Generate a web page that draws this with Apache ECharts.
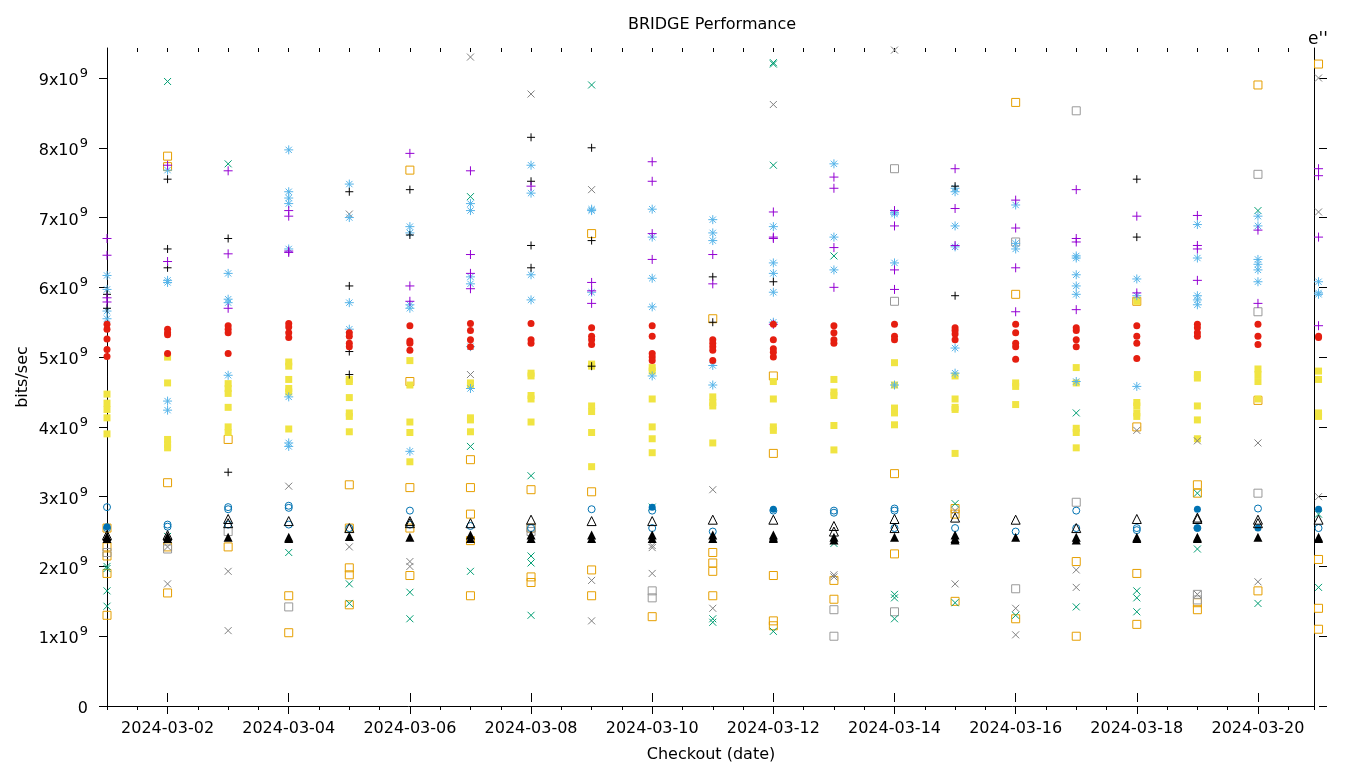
<!DOCTYPE html>
<html>
<head>
<meta charset="utf-8">
<script src="https://cdn.jsdelivr.net/npm/echarts@6/dist/echarts.min.js"></script>
<style>
  html, body { margin: 0; background: #fff; }
  #chart { width: 1360px; height: 768px; }
</style>
</head>
<body>
<div id="chart"></div>
<script>
// values in units of 1e9 bits/sec, one sub-array per day (2024-03-01 .. 2024-03-21)
const purplePlus = [
  [6.7, 6.46, 5.85, 5.79], [7.75, 6.37], [7.67, 6.48, 5.7], [7.1, 7.02, 6.52, 6.5], [],
  [7.92, 6.02, 5.8], [7.67, 6.47, 6.2, 5.98], [7.45], [6.07, 5.95, 5.77], [7.8, 7.52, 6.77, 6.4],
  [6.47, 6.05], [7.08, 6.72, 6.7, 5.47], [7.58, 7.42, 6.57, 6.0], [7.1, 6.88, 6.25, 5.97], [7.7, 7.13, 6.6],
  [7.25, 6.85, 6.28, 5.65], [7.4, 6.7, 6.65, 5.68], [7.02, 5.92], [7.03, 6.6, 6.55, 6.1], [6.82, 5.77],
  [7.7, 7.6, 6.72, 5.45]
];
const blackPlus = [
  [5.9, 5.7], [7.55, 6.55, 6.28], [6.7, 3.35], [], [7.37, 6.02, 5.08, 4.75],
  [7.4, 6.75], [], [8.15, 7.52, 6.6, 6.28], [8.0, 6.67, 4.87], [],
  [6.15, 5.5], [6.08], [], [], [7.45, 5.88],
  [], [], [7.55, 6.72], [], [],
  []
];
const tealCross = [
  [2.0, 1.97, 1.65, 1.43], [8.95, 2.43], [7.77], [2.2], [1.75, 1.47],
  [1.63, 1.25], [7.3, 3.72, 1.93], [3.3, 2.15, 2.05, 1.3], [8.9], [2.85],
  [1.25, 1.2], [9.22, 9.2, 7.75, 1.07], [6.45, 2.33], [1.6, 1.55, 1.25], [2.9, 1.48],
  [1.3], [4.2, 1.42], [1.65, 1.55, 1.35], [3.05, 2.25], [7.1, 1.47],
  [2.75, 1.7]
];
const grayCross = [
  [], [1.75, 2.28], [1.93, 1.08], [3.15], [7.05, 2.28],
  [2.07, 2.0], [9.3, 4.75], [8.77], [7.4, 1.8, 1.22], [2.3, 2.27, 1.9],
  [3.1, 1.4], [8.62], [1.88, 1.85], [9.4], [2.8, 1.75],
  [1.4, 1.02], [1.95, 1.7], [3.95], [3.8, 1.6], [3.77, 1.78],
  [9.0, 7.08, 3.0]
];
const blueStar = [
  [6.17, 5.97, 5.66, 5.55], [7.68, 6.1, 6.07, 4.37, 4.24], [6.2, 5.83, 5.78, 4.74],
  [7.97, 7.37, 7.28, 7.2, 6.55, 4.43, 3.77, 3.72], [7.48, 7.0, 5.78, 5.4],
  [6.87, 6.78, 5.75, 5.7, 3.65], [7.2, 7.1, 6.15, 6.05, 5.15, 4.55], [7.75, 7.35, 6.18, 5.82],
  [7.12, 7.1, 5.93], [7.12, 6.72, 6.13, 5.72, 4.73],
  [6.97, 6.78, 6.67, 4.88, 4.6], [6.87, 6.35, 6.2, 5.93, 5.5], [7.77, 6.72, 6.25],
  [7.07, 7.05, 6.35, 4.6], [7.42, 7.37, 6.88, 6.58, 5.13, 4.77],
  [7.18, 6.63, 6.55], [6.45, 6.42, 6.18, 6.02, 5.9, 4.65], [6.12, 5.88, 4.58],
  [6.9, 6.42, 5.88, 5.82, 5.75], [7.02, 6.88, 6.4, 6.33, 6.25, 6.08],
  [6.08, 5.92, 5.9]
];
const orangeSquare = [
  [2.55, 2.28, 2.15, 1.9, 1.3], [7.88, 7.73, 3.2, 2.28, 1.62], [3.82, 2.28], [1.58, 1.05],
  [3.17, 2.55, 1.98, 1.88, 1.45], [7.68, 4.65, 3.13, 2.55, 1.87], [3.53, 3.13, 2.75, 2.37, 1.58],
  [3.1, 2.55, 1.85, 1.77], [6.77, 3.07, 1.95, 1.58], [1.28],
  [5.55, 2.2, 2.05, 1.93, 1.58], [4.73, 3.62, 1.87, 1.22, 1.15], [1.8, 1.53], [3.33, 2.18],
  [2.83, 2.75, 1.5], [8.65, 5.9, 1.25], [2.07, 1.0], [5.8, 4.0, 1.9, 1.17],
  [3.17, 3.05, 1.48, 1.38], [8.9, 4.38, 1.65], [9.2, 2.1, 1.4, 1.1]
];
const graySquare = [
  [2.2], [2.25], [2.5], [1.42], [],
  [], [], [2.55, 2.5], [], [1.65, 1.55],
  [], [], [1.38, 1.0], [7.7, 5.8, 1.35], [],
  [6.65, 1.68], [8.53, 2.92], [], [1.6, 1.52], [7.62, 5.65, 3.05],
  []
];
const yellowSquare = [
  [4.47, 4.34, 4.25, 4.13, 3.9], [5.0, 4.63, 3.82, 3.75, 3.7], [4.62, 4.55, 4.48, 4.28, 4.0, 3.92],
  [4.93, 4.87, 4.68, 4.55, 4.5, 3.97], [4.68, 4.65, 4.42, 4.2, 4.15, 3.93], [4.95, 4.6, 4.07, 3.92, 3.5],
  [4.63, 4.6, 4.13, 4.1, 3.93], [4.77, 4.73, 4.45, 4.4, 4.07], [4.9, 4.87, 4.3, 4.22, 3.92, 3.43],
  [4.85, 4.8, 4.4, 4.0, 3.83, 3.63], [4.43, 4.35, 4.3, 3.77], [4.65, 4.4, 4.0, 3.95],
  [4.68, 4.5, 4.45, 4.02, 3.67], [4.92, 4.6, 4.27, 4.2, 4.03], [4.73, 4.4, 4.28, 4.25, 3.62],
  [4.63, 4.58, 4.32], [4.85, 4.63, 3.98, 3.92, 3.7], [5.8, 4.35, 4.3, 4.2, 4.15],
  [4.75, 4.7, 4.3, 4.1, 3.83], [4.83, 4.75, 4.65, 4.4], [4.8, 4.68, 4.2, 4.15]
];
const blueCircle = [
  [2.85, 2.55], [2.6, 2.57], [2.85, 2.82, 2.6], [2.87, 2.84, 2.6], [2.55],
  [2.8, 2.6], [2.58], [2.55], [2.82], [2.8, 2.55],
  [2.5], [2.8], [2.8, 2.77], [2.83, 2.8, 2.55], [2.55],
  [2.5], [2.8, 2.55], [2.55, 2.52], [2.55], [2.83],
  [2.55]
];
const blueDot = [
  [2.57], [], [], [], [],
  [], [], [], [], [2.85],
  [], [2.82], [], [], [],
  [], [], [], [2.82, 2.55], [2.55],
  [2.82]
];
const redDot = [
  [5.47, 5.4, 5.26, 5.11, 5.01], [5.4, 5.35, 5.32, 5.05], [5.45, 5.4, 5.35, 5.05], [5.48, 5.43, 5.35, 5.28],
  [5.35, 5.3, 5.2, 5.15], [5.45, 5.23, 5.2, 5.1], [5.48, 5.38, 5.25, 5.15], [5.48, 5.25, 5.2],
  [5.42, 5.3, 5.25, 5.18], [5.45, 5.3, 5.05, 5.0, 4.95], [5.25, 5.2, 5.15, 5.1, 4.95],
  [5.47, 5.25, 5.12, 5.07, 5.0], [5.45, 5.35, 5.25, 5.2], [5.47, 5.3, 5.25], [5.42, 5.38, 5.33, 5.25],
  [5.47, 5.35, 5.2, 5.15, 4.97], [5.42, 5.38, 5.25, 5.15], [5.45, 5.3, 5.2, 4.98],
  [5.47, 5.42, 5.35, 5.3], [5.47, 5.3, 5.18], [5.3, 5.28]
];
const blackTriangle = [
  [2.45], [2.45], [2.68, 2.62], [2.65], [2.55],
  [2.65, 2.62], [2.62], [2.67], [2.65], [2.65],
  [2.67], [2.67], [2.58, 2.5], [2.68, 2.55], [2.7],
  [2.67], [2.55], [2.68], [2.7, 2.68], [2.67, 2.62],
  [2.67]
];
const blackTriFilled = [
  [2.43, 2.4], [2.43, 2.4], [2.42], [2.42, 2.4], [2.43],
  [2.42], [2.45, 2.4], [2.45, 2.4], [2.45, 2.4], [2.45, 2.4],
  [2.45, 2.4], [2.45, 2.42, 2.4], [2.42, 2.38], [2.42], [2.45, 2.4, 2.38],
  [2.42], [2.42, 2.38], [2.42, 2.4], [2.42, 2.4], [2.42],
  [2.42, 2.4]
];
const labelDays = [2, 4, 6, 8, 10, 12, 14, 16, 18, 20];
const yTicks = [0, 1, 2, 3, 4, 5, 6, 7, 8, 9];

const X_MIN = 1, X_MAX = 20.925, Y_MAX = 9.43;
const FONT = 'DejaVu Sans';

const PLUS = 'path://M0,5L10,5M5,0L5,10';
const CROSS = 'path://M0,0L10,10M10,0L0,10';
const STAR = 'path://M0,5L10,5M5,0L5,10M1.5,1.5L8.5,8.5M8.5,1.5L1.5,8.5';

function toPoints(perDay) {
  const out = [];
  perDay.forEach((vals, i) => vals.forEach(v => out.push([i + 1, v])));
  return out;
}

const styles = [
  { data: orangeSquare, symbol: 'rect', size: 8, color: '#E69F00', open: true },
  { data: graySquare, symbol: 'rect', size: 8, color: '#999999', open: true },
  { data: yellowSquare, symbol: 'rect', size: 7, color: '#F0E442', open: false },
  { data: grayCross, symbol: CROSS, size: 7, color: '#808080', open: true },
  { data: tealCross, symbol: CROSS, size: 7, color: '#009E73', open: true },
  { data: blueStar, symbol: STAR, size: 9, color: '#56B4E9', open: true },
  { data: blackPlus, symbol: PLUS, size: 8, color: '#000000', open: true },
  { data: purplePlus, symbol: PLUS, size: 9, color: '#9400D3', open: true },
  { data: redDot, symbol: 'circle', size: 7, color: '#E51E10', open: false },
  { data: blueCircle, symbol: 'circle', size: 7, color: '#0072B2', open: true },
  { data: blueDot, symbol: 'circle', size: 7, color: '#0072B2', open: false },
  { data: blackTriangle, symbol: 'triangle', size: 9, color: '#000000', open: true },
  { data: blackTriFilled, symbol: 'triangle', size: 9, color: '#000000', open: false }
];

const series = styles.map(s => ({
  type: 'scatter',
  xAxisIndex: 0,
  yAxisIndex: 0,
  clip: false,
  symbol: s.symbol,
  symbolSize: s.size,
  data: toPoints(s.data),
  itemStyle: s.open
    ? { color: 'rgba(0,0,0,0)', borderColor: s.color, borderWidth: 1, opacity: 1 }
    : { color: s.color, borderWidth: 0, opacity: 1 },
  emphasis: { disabled: true }
}));

const black = { color: '#000', width: 1 };
function dateLabel(v) {
  return '2024-03-' + String(Math.round(v)).padStart(2, '0');
}
function xAxisDef(position, major, offset) {
  return {
    type: 'value', position: position, offset: offset, min: X_MIN, max: X_MAX,
    interval: 0.5,
    axisLine: { show: position === 'bottom' && major, lineStyle: black },
    axisTick: major
      ? { show: true, inside: false, length: position === 'bottom' ? 8 : 9, lineStyle: black, customValues: labelDays }
      : { show: true, inside: false, length: 4, lineStyle: black },
    axisLabel: {
      show: position === 'bottom' && major,
      customValues: labelDays,
      formatter: dateLabel,
      color: '#000', fontFamily: FONT, fontSize: 16, margin: 15
    },
    splitLine: { show: false }
  };
}

const chart = echarts.init(document.getElementById('chart'));
chart.setOption({
  animation: false,
  backgroundColor: '#fff',
  grid: { left: 107, right: 46, top: 48, bottom: 62, containLabel: false },
  xAxis: [
    xAxisDef('bottom', true, 0),
    xAxisDef('bottom', false, 0),
    xAxisDef('top', true, -4),
    xAxisDef('top', false, -4)
  ],
  yAxis: [
    {
      type: 'value', position: 'left', min: 0, max: Y_MAX, interval: 1,
      axisLine: { show: true, lineStyle: black },
      axisTick: { show: true, inside: false, length: 8, lineStyle: black, customValues: yTicks },
      axisLabel: {
        customValues: yTicks,
        margin: 19,
        formatter: v => v === 0 ? '{b|0}' : '{b|' + v + 'x10}{s|9}',
        rich: {
          b: { fontFamily: FONT, fontSize: 16, color: '#000', lineHeight: 22, verticalAlign: 'bottom' },
          s: { fontFamily: FONT, fontSize: 13, color: '#000', lineHeight: 22, verticalAlign: 'top', padding: [0, 0, 0, 1] }
        }
      },
      splitLine: { show: false }
    },
    {
      type: 'value', position: 'right', min: 0, max: Y_MAX, interval: 1,
      axisLine: { show: true, lineStyle: black },
      axisTick: { show: false },
      axisLabel: { show: false },
      splitLine: { show: false }
    },
    {
      type: 'value', position: 'right', offset: 5, min: 0, max: Y_MAX, interval: 1,
      axisLine: { show: false },
      axisTick: { show: true, inside: false, length: 8, lineStyle: black, customValues: yTicks },
      axisLabel: { show: false },
      splitLine: { show: false }
    }
  ],
  graphic: [
    { type: 'text', x: 712, y: 25, style: { text: 'BRIDGE Performance', font: '16px "DejaVu Sans"', fill: '#000', align: 'center', verticalAlign: 'middle' } },
    { type: 'text', x: 711, y: 755, style: { text: 'Checkout (date)', font: '16px "DejaVu Sans"', fill: '#000', align: 'center', verticalAlign: 'middle' } },
    { type: 'text', x: 23, y: 377, rotation: Math.PI / 2, style: { text: 'bits/sec', font: '16px "DejaVu Sans"', fill: '#000', align: 'center', verticalAlign: 'middle' } },
    { type: 'text', x: 1318, y: 40, style: { text: "e''", font: '17px "DejaVu Sans"', fill: '#000', align: 'center', verticalAlign: 'middle' } }
  ],
  series: series
});
</script>
</body>
</html>
